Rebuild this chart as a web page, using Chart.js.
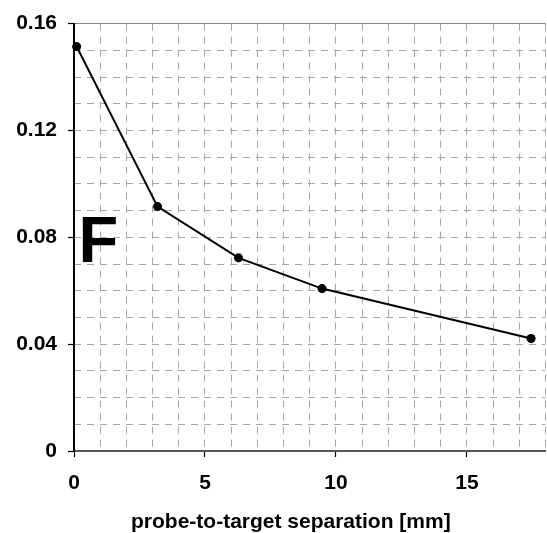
<!DOCTYPE html>
<html>
<head>
<meta charset="utf-8">
<script src="https://cdn.jsdelivr.net/npm/chart.js@4.4.0/dist/chart.umd.min.js"></script>
<style>
  html, body { margin: 0; padding: 0; background: #fff; overflow: hidden; width: 547px; height: 533px; }
  canvas { display: block; }
</style>
</head>
<body>
<canvas id="c" width="550" height="533"></canvas>
<script>
// ---- data ----
const separationMm = [0.1, 3.19, 6.28, 9.47, 17.45];
const signalValues = [0.1514, 0.0915, 0.0723, 0.0608, 0.0421];
const xTickLabels = [0, 5, 10, 15];
const yTickLabels = [0, 0.04, 0.08, 0.12, 0.16];
const xRange = [0, 18];
const yRange = [0, 0.16];
const xTitle = 'probe-to-target separation [mm]';
const panelLabel = 'F';

const FONT = '"Liberation Sans", Arial, Helvetica, sans-serif';
const GRID = '#a6a6a6';

const textPlugin = {
  id: 'extraText',
  afterDraw(chart) {
    const { ctx, chartArea } = chart;
    ctx.save();
    ctx.fillStyle = '#000';
    ctx.textAlign = 'left';
    ctx.textBaseline = 'alphabetic';
    ctx.font = 'bold 65px ' + FONT;
    ctx.fillText(panelLabel, chartArea.left + 4.5, 262);
    ctx.font = 'bold 21px ' + FONT;
    ctx.fillText(xTitle, 131, 528);
    ctx.restore();
  }
};

const near = (a, b) => Math.abs(a - b) < 1e-9;

new Chart(document.getElementById('c'), {
  type: 'line',
  data: {
    datasets: [{
      data: separationMm.map((x, i) => ({ x, y: signalValues[i] })),
      borderColor: '#000',
      borderWidth: 2,
      pointRadius: 4.5,
      pointBackgroundColor: '#000',
      pointBorderColor: '#000',
      pointBorderWidth: 0,
      tension: 0,
      clip: false,
      xAxisID: 'x',
      yAxisID: 'y'
    }]
  },
  options: {
    responsive: false,
    devicePixelRatio: 1,
    animation: false,
    layout: { padding: { top: 17, left: 0, right: 0, bottom: 0 } },
    plugins: { legend: { display: false }, tooltip: { enabled: false } },
    scales: {
      xg: {
        type: 'linear', position: 'bottom', min: xRange[0], max: xRange[1],
        ticks: { display: false, stepSize: 1 },
        grid: {
          drawTicks: false, lineWidth: 1,
          color: c => (c.tick && near(c.tick.value, 0)) ? 'rgba(0,0,0,0)' : GRID
        },
        border: { display: false, dash: [7, 6] },
        afterFit: s => { s.height = 0; }
      },
      yg: {
        type: 'linear', position: 'left', min: yRange[0], max: yRange[1],
        ticks: { display: false, stepSize: 0.01 },
        grid: {
          drawTicks: false, lineWidth: 1,
          color: c => (c.tick && (near(c.tick.value, 0) || near(c.tick.value, 0.16))) ? 'rgba(0,0,0,0)' : GRID
        },
        border: { display: false, dash: [7, 6] },
        afterFit: s => { s.width = 0; }
      },
      x: {
        type: 'linear', position: 'bottom', min: xRange[0], max: xRange[1],
        afterBuildTicks: s => { s.ticks = xTickLabels.map(v => ({ value: v })); },
        ticks: {
          color: '#000', padding: 14,
          font: { family: FONT, size: 21, weight: 'bold' },
          callback: v => String(v)
        },
        grid: { drawOnChartArea: false, tickLength: 6, tickColor: '#000', tickWidth: 1.2 },
        border: { display: true, color: '#555', width: 2 },
        afterFit: s => { s.height = 82; }
      },
      y: {
        type: 'linear', position: 'left', min: yRange[0], max: yRange[1],
        afterBuildTicks: s => { s.ticks = yTickLabels.map(v => ({ value: v })); },
        ticks: {
          color: '#000', padding: 11,
          font: { family: FONT, size: 21, weight: 'bold' },
          callback: v => (v === 0 ? '0' : Number(v).toFixed(2))
        },
        grid: {
          drawOnChartArea: true, lineWidth: 1, tickLength: 6, tickColor: '#000', tickWidth: 1.2,
          color: c => (c.tick && near(c.tick.value, 0.16)) ? '#888' : 'rgba(0,0,0,0)'
        },
        border: { display: true, color: '#000', width: 2 },
        afterFit: s => { s.width = 74; }
      }
    }
  },
  plugins: [textPlugin]
});
</script>
</body>
</html>
